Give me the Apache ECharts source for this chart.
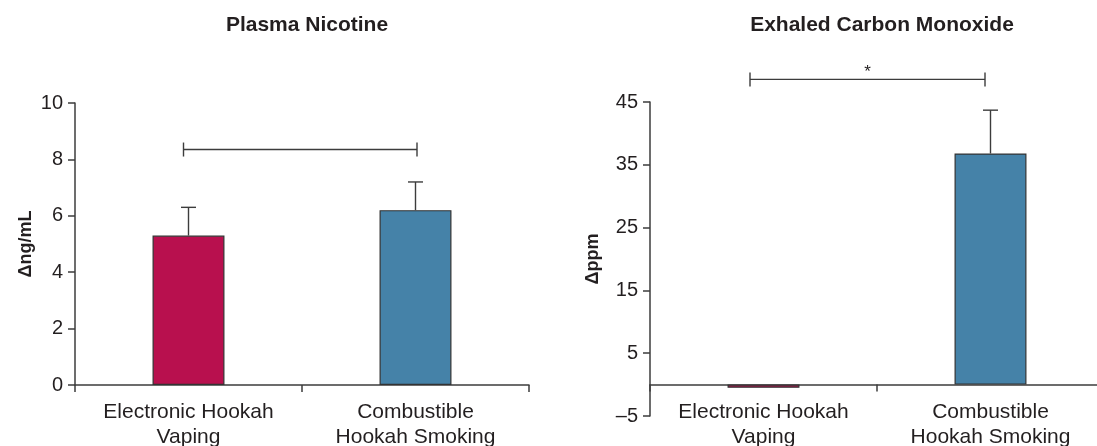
<!DOCTYPE html>
<html>
<head>
<meta charset="utf-8">
<script src="https://cdn.jsdelivr.net/npm/echarts@6/dist/echarts.min.js"></script>
<style>
html,body{margin:0;padding:0;background:#fff;}
#chart{width:1097px;height:446px;}
</style>
</head>
<body>
<div id="chart"></div>
<script>
// ---- data ----
const categories = ['Electronic Hookah\nVaping', 'Combustible\nHookah Smoking'];
const titles = ['Plasma Nicotine', 'Exhaled Carbon Monoxide'];
const yNames = ['\u0394ng/mL', '\u0394ppm'];
const nicotineMean = [5.3, 6.2];
const nicotineErrTop = [6.3, 7.2];
const coMean = [-0.5, 36.8];
const coErrTop = [null, 43.7];
const nicotineBracket = [8.35];
const coBracket = [48.6];
const nicotineSig = [''];
const coSig = ['*'];
const nicotineTicks = [0, 2, 4, 6, 8, 10];
const coTicks = [-5, 5, 15, 25, 35, 45];

const barColors = ['#b8104e', '#4582a8'];
const textColor = '#231f20';
const lineColor = '#3c3c3c';
const font = 'Liberation Sans, Arial, Helvetica, sans-serif';

const grids = [
  { left: 75, top: 103, width: 454, height: 282 },
  { left: 650, top: 102, width: 454, height: 314 }
];

const chart = echarts.init(document.getElementById('chart'));

function errorSeries(axisIdx, means, tops) {
  return {
    type: 'custom',
    xAxisIndex: axisIdx, yAxisIndex: axisIdx,
    z: 1,
    data: means.map((m, i) => [i, m, tops[i]]).filter(d => d[2] != null),
    renderItem: function (params, api) {
      const x = api.value(0);
      const p0 = api.coord([x, api.value(1)]);
      const p1 = api.coord([x, api.value(2)]);
      const cap = 7.5;
      const st = { stroke: lineColor, lineWidth: 1.4 };
      return {
        type: 'group',
        children: [
          { type: 'line', shape: { x1: p0[0], y1: p0[1], x2: p1[0], y2: p1[1] }, style: st },
          { type: 'line', shape: { x1: p1[0] - cap, y1: p1[1], x2: p1[0] + cap, y2: p1[1] }, style: st }
        ]
      };
    }
  };
}

function bracketSeries(axisIdx, yVals, sig, shift) {
  return {
    type: 'custom',
    xAxisIndex: axisIdx, yAxisIndex: axisIdx,
    clip: false,
    data: yVals.map((v, i) => [0, 1, v, sig[i]]),
    renderItem: function (params, api) {
      const a = api.coord([api.value(0), api.value(2)]);
      const b = api.coord([api.value(1), api.value(2)]);
      const y = a[1];
      const xa = a[0] + shift[0], xb = b[0] + shift[1];
      const h = 7;
      const st = { stroke: lineColor, lineWidth: 1.4 };
      const children = [
        { type: 'line', shape: { x1: xa, y1: y, x2: xb, y2: y }, style: st },
        { type: 'line', shape: { x1: xa, y1: y - h, x2: xa, y2: y + h }, style: st },
        { type: 'line', shape: { x1: xb, y1: y - h, x2: xb, y2: y + h }, style: st }
      ];
      const s = sig[params.dataIndex];
      if (s) {
        children.push({ type: 'text', style: { text: s, x: (xa + xb) / 2, y: y + 1, align: 'center', verticalAlign: 'bottom', fill: textColor, font: '17px ' + font } });
      }
      return { type: 'group', children: children };
    }
  };
}

function xAxisCfg(idx, ticks) {
  const min = ticks[0], max = ticks[ticks.length - 1];
  // place the category axis at the zero line of its value axis
  const zeroOffset = min < 0 ? -grids[idx].height * (0 - min) / (max - min) : 0;
  return {
    type: 'category', gridIndex: idx, data: categories,
    offset: zeroOffset,
    axisLine: { onZero: false, lineStyle: { color: lineColor, width: 1.5 } },
    axisTick: { show: true, length: 7, lineStyle: { color: lineColor, width: 1.5 } },
    axisLabel: { interval: 0, margin: 15, color: textColor, fontSize: 21, lineHeight: 25, fontFamily: font },
    splitLine: { show: false }
  };
}

function yAxisCfg(idx, ticks, name, gap) {
  return {
    type: 'value', gridIndex: idx, min: ticks[0], max: ticks[ticks.length - 1], interval: ticks[1] - ticks[0],
    name: name, nameLocation: 'middle', nameGap: gap, nameRotate: 90,
    nameTextStyle: { color: textColor, fontSize: 18, fontWeight: 'bold', fontFamily: font },
    axisLine: { show: true, onZero: false, lineStyle: { color: lineColor, width: 1.5 } },
    axisTick: { show: true, length: 7, lineStyle: { color: lineColor, width: 1.5 } },
    axisLabel: { margin: 12, color: textColor, fontSize: 20, fontFamily: font,
      formatter: v => (v < 0 ? '\u2013' + Math.abs(v) : String(v)) },
    splitLine: { show: false }
  };
}

chart.setOption({
  animation: false,
  backgroundColor: '#fff',
  title: [
    { text: titles[0], left: 302, top: 10, textAlign: 'center', textStyle: { color: textColor, fontSize: 21, fontWeight: 'bold', fontFamily: font } },
    { text: titles[1], left: 877, top: 10, textAlign: 'center', textStyle: { color: textColor, fontSize: 21, fontWeight: 'bold', fontFamily: font } }
  ],
  grid: grids.map(g => Object.assign({ outerBoundsMode: 'none', containLabel: false }, g)),
  xAxis: [xAxisCfg(0, nicotineTicks), xAxisCfg(1, coTicks)],
  yAxis: [
    yAxisCfg(0, nicotineTicks, yNames[0], 40),
    yAxisCfg(1, coTicks, yNames[1], 48)
  ],
  series: [
    {
      type: 'bar', xAxisIndex: 0, yAxisIndex: 0, barWidth: '31.7%', z: 2,
      data: nicotineMean.map((v, i) => ({ value: v, itemStyle: { color: barColors[i] } })),
      itemStyle: { borderColor: '#333', borderWidth: 1.2 }
    },
    errorSeries(0, nicotineMean, nicotineErrTop),
    bracketSeries(0, nicotineBracket, nicotineSig, [-5, 1.5]),
    {
      type: 'bar', xAxisIndex: 1, yAxisIndex: 1, barWidth: '31.7%', z: 2,
      data: coMean.map((v, i) => ({ value: v, itemStyle: { color: barColors[i] } })),
      itemStyle: { borderColor: '#333', borderWidth: 1.2 }
    },
    errorSeries(1, coMean, coErrTop),
    bracketSeries(1, coBracket, coSig, [-13.5, -5.5])
  ]
});
</script>
</body>
</html>
